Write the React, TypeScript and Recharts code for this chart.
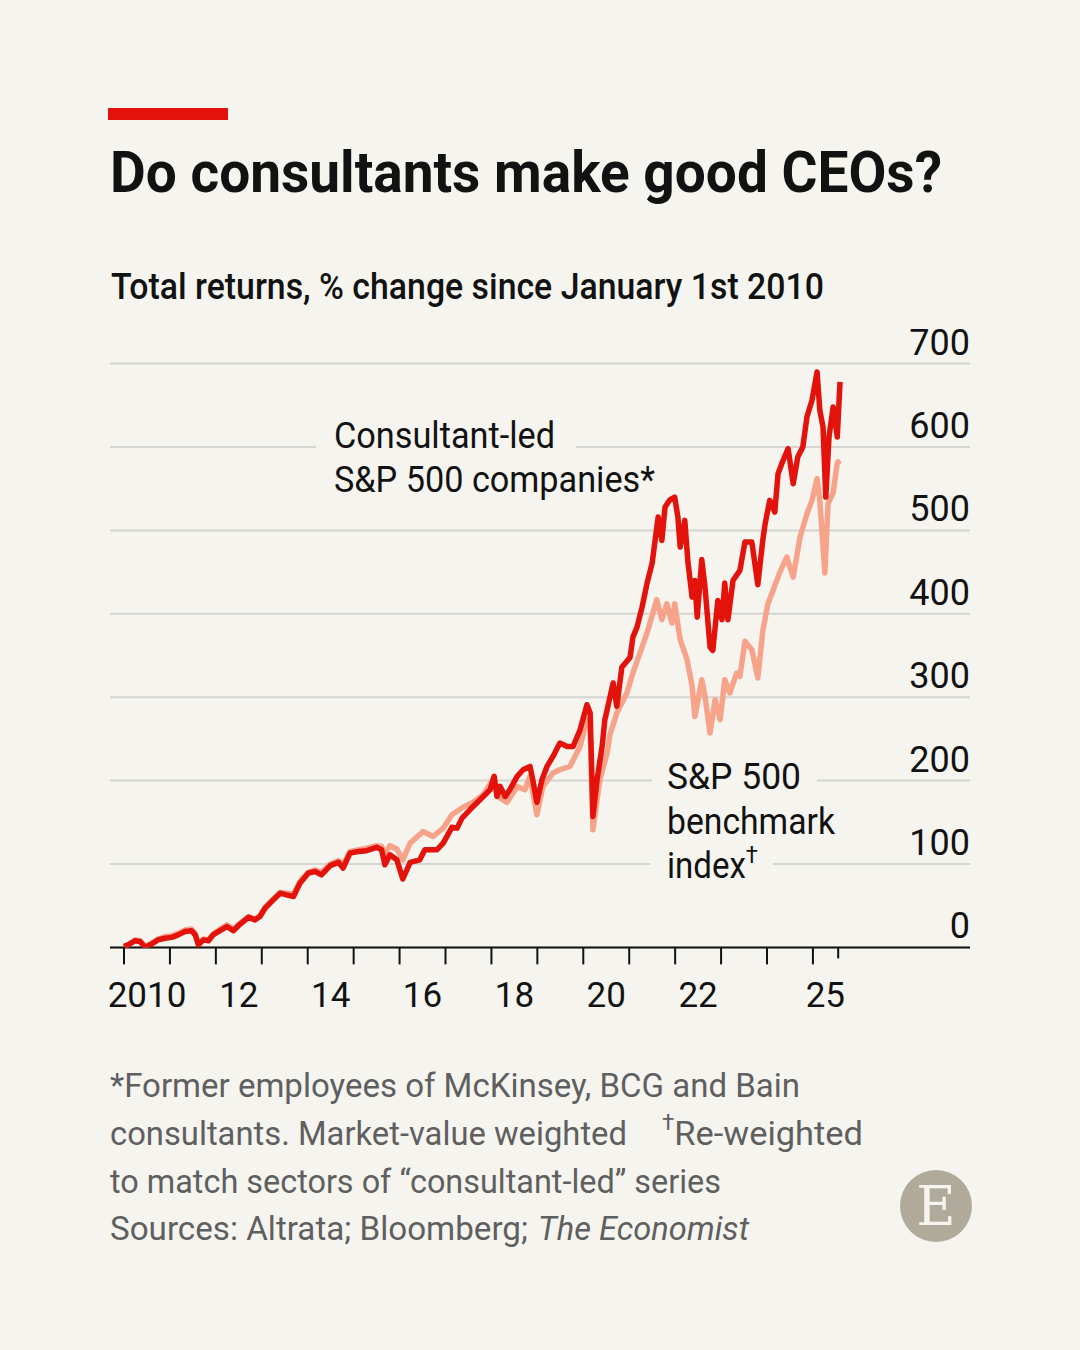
import React from 'react';
import { LineChart, Line, XAxis, YAxis, CartesianGrid, ReferenceLine } from 'recharts';

// ---------- data ----------
const consultantDates = [
  2010.00, 2010.09, 2010.24, 2010.35, 2010.46, 2010.60, 2010.74, 2010.89, 2011.04, 2011.18,
  2011.33, 2011.47, 2011.55, 2011.62, 2011.73, 2011.84, 2011.94, 2012.09, 2012.24, 2012.38,
  2012.53, 2012.71, 2012.85, 2012.96, 2013.07, 2013.25, 2013.40, 2013.54, 2013.69, 2013.83,
  2014.01, 2014.16, 2014.30, 2014.49, 2014.67, 2014.77, 2014.92, 2015.10, 2015.28, 2015.50,
  2015.61, 2015.68, 2015.79, 2015.94, 2016.07, 2016.23, 2016.44, 2016.55, 2016.81, 2016.95,
  2017.14, 2017.25, 2017.36, 2017.53, 2017.75, 2017.97, 2018.06, 2018.12, 2018.19, 2018.30,
  2018.40, 2018.56, 2018.69, 2018.84, 2018.90, 2018.99, 2019.10, 2019.21, 2019.34, 2019.49,
  2019.65, 2019.78, 2019.93, 2020.08, 2020.15, 2020.21, 2020.30, 2020.41, 2020.47, 2020.52,
  2020.65, 2020.73, 2020.84, 2021.02, 2021.08, 2021.17, 2021.28, 2021.39, 2021.50, 2021.63,
  2021.71, 2021.78, 2021.89, 2021.99, 2022.06, 2022.11, 2022.21, 2022.28, 2022.37, 2022.43,
  2022.48, 2022.58, 2022.65, 2022.76, 2022.82, 2022.93, 2023.02, 2023.08, 2023.15, 2023.26,
  2023.41, 2023.52, 2023.67, 2023.80, 2023.91, 2023.96, 2024.06, 2024.17, 2024.24, 2024.35,
  2024.46, 2024.57, 2024.67, 2024.78, 2024.87, 2024.98, 2025.09, 2025.15, 2025.22, 2025.28,
  2025.35, 2025.44, 2025.53, 2025.59,
];
const consultantValues = [
  1, 3, 8, 7, 0, 4, 9, 11, 12, 15,
  19, 20, 15, 3, 9, 8, 15, 20, 25, 20,
  28, 36, 33, 37, 47, 57, 65, 63, 61, 77,
  89, 91, 87, 98, 102, 95, 113, 115, 116, 120,
  117, 99, 111, 105, 82, 102, 105, 117, 117, 125,
  144, 143, 155, 165, 177, 189, 205, 181, 193, 181,
  189, 205, 213, 217, 201, 174, 201, 217, 229, 245,
  241, 241, 261, 291, 281, 157, 201, 241, 273, 285,
  317, 289, 336, 348, 372, 384, 408, 437, 461, 516,
  488, 528, 537, 540, 516, 480, 512, 461, 420, 440,
  396, 465, 432, 360, 356, 416, 393, 437, 393, 440,
  452, 486, 486, 435, 489, 508, 536, 522, 568, 584,
  598, 556, 588, 600, 636, 656, 690, 644, 624, 540,
  612, 648, 612, 678,
];

const benchmarkDates = [
  2010.00, 2010.09, 2010.24, 2010.35, 2010.46, 2010.60, 2010.74, 2010.89, 2011.04, 2011.18,
  2011.33, 2011.47, 2011.55, 2011.62, 2011.73, 2011.84, 2011.94, 2012.09, 2012.24, 2012.38,
  2012.53, 2012.71, 2012.85, 2012.96, 2013.07, 2013.25, 2013.40, 2013.54, 2013.69, 2013.83,
  2014.01, 2014.16, 2014.30, 2014.49, 2014.67, 2014.77, 2014.92, 2015.10, 2015.28, 2015.50,
  2015.61, 2015.68, 2015.79, 2015.94, 2016.07, 2016.23, 2016.51, 2016.73, 2016.95, 2017.14,
  2017.38, 2017.60, 2017.82, 2018.03, 2018.19, 2018.34, 2018.56, 2018.73, 2018.84, 2018.99,
  2019.12, 2019.34, 2019.49, 2019.71, 2019.93, 2020.08, 2020.15, 2020.21, 2020.36, 2020.52,
  2020.58, 2020.73, 2020.95, 2021.08, 2021.28, 2021.41, 2021.60, 2021.71, 2021.82, 2021.93,
  2021.99, 2022.11, 2022.26, 2022.37, 2022.43, 2022.58, 2022.65, 2022.76, 2022.87, 2022.98,
  2023.08, 2023.19, 2023.34, 2023.41, 2023.52, 2023.67, 2023.80, 2023.91, 2024.02, 2024.13,
  2024.28, 2024.43, 2024.57, 2024.72, 2024.87, 2024.98, 2025.09, 2025.15, 2025.26, 2025.33,
  2025.44, 2025.53, 2025.59,
];
const benchmarkValues = [
  1, 3, 9, 8, 1, 5, 10, 13, 14, 17,
  21, 22, 17, 5, 10, 9, 16, 22, 27, 22,
  29, 37, 34, 38, 48, 58, 66, 65, 64, 79,
  90, 93, 90, 100, 104, 99, 115, 117, 119, 122,
  121, 112, 122, 118, 105, 125, 139, 133, 143, 159,
  168, 174, 183, 201, 179, 174, 193, 189, 205, 159,
  193, 209, 213, 217, 241, 273, 261, 141, 201, 233,
  255, 281, 305, 329, 360, 381, 417, 393, 412, 389,
  412, 369, 345, 313, 277, 321, 301, 257, 297, 273,
  321, 305, 329, 325, 367, 357, 323, 380, 412, 428,
  450, 468, 444, 492, 520, 536, 562, 536, 449, 532,
  545, 581, 584,
];

const yTicks = [0, 100, 200, 300, 400, 500, 600, 700];
const xTickYears = [2010, 2011, 2012, 2013, 2014, 2015, 2016, 2017, 2018, 2019, 2020, 2021, 2022, 2023, 2024, 2025, 2025.55];
const xLabelPositions = [2010.5, 2012.5, 2014.5, 2016.5, 2018.5, 2020.5, 2022.5, 2025.27];
const xLabelTexts = ['2010', '12', '14', '16', '18', '20', '22', '25'];
const dataEndTick = 2025.55;

// ---------- layout / style ----------
const W = 1080;
const H = 1350;
const PLOT_LEFT = 110;
const PLOT_RIGHT = 970;
const PLOT_TOP = 363.6;
const PLOT_BOTTOM = 947.4;
const X_AXIS_H = 30;
const Y_AXIS_W = 10;
const X_DOMAIN: [number, number] = [2009.695, 2028.42];
const BG = '#f5f4ef';
const INK = '#121212';
const GREY = '#5f5f5f';
const RED = '#e3120b';
const SALMON = '#f7a38a';
const GRID = '#d4d4d0';
const FONT = "Roboto, 'Noto Sans', 'DejaVu Sans', sans-serif";

const consultantData = consultantDates.map((d, i) => ({ x: d, v: consultantValues[i] }));
const benchmarkData = benchmarkDates.map((d, i) => ({ x: d, v: benchmarkValues[i] }));

function TickMark(props: any) {
  const { x, payload } = props;
  const len = payload && payload.value === dataEndTick ? 11 : 17;
  return <line x1={x} x2={x} y1={PLOT_BOTTOM} y2={PLOT_BOTTOM + len} stroke={INK} strokeWidth={2} />;
}

function XLabel(props: any) {
  const { x, payload } = props;
  const idx = xLabelPositions.indexOf(payload.value);
  return (
    <text x={x} y={PLOT_BOTTOM + 60} textAnchor="middle" fontSize={35} fill={INK} fontFamily={FONT}>
      {idx >= 0 ? xLabelTexts[idx] : ''}
    </text>
  );
}

function YLabel(props: any) {
  const { y, payload } = props;
  return (
    <text x={PLOT_RIGHT} y={y - 9} textAnchor="end" fontSize={36} fill={INK} fontFamily={FONT}>
      {payload.value}
    </text>
  );
}

export default function App() {
  return (
    <div style={{ position: 'absolute', left: 0, top: 0, width: W, height: H, background: BG, overflow: 'hidden' }}>
      <div style={{ position: 'absolute', left: 0, top: 0 }}>
        <LineChart
          width={W}
          height={H}
          margin={{
            top: PLOT_TOP,
            right: W - PLOT_RIGHT - Y_AXIS_W,
            bottom: H - PLOT_BOTTOM - 2 * X_AXIS_H,
            left: PLOT_LEFT,
          }}
        >
          <CartesianGrid xAxisId="t" vertical={false} stroke={GRID} strokeWidth={2} />
          <XAxis
            xAxisId="t"
            type="number"
            dataKey="x"
            domain={X_DOMAIN}
            allowDataOverflow
            ticks={xTickYears}
            interval={0}
            axisLine={false}
            tickLine={false}
            height={X_AXIS_H}
            tick={<TickMark />}
          />
          <XAxis
            xAxisId="l"
            type="number"
            dataKey="x"
            domain={X_DOMAIN}
            allowDataOverflow
            ticks={xLabelPositions}
            interval={0}
            axisLine={false}
            tickLine={false}
            height={X_AXIS_H}
            tick={<XLabel />}
          />
          <YAxis
            orientation="right"
            type="number"
            domain={[0, 700]}
            allowDataOverflow
            ticks={yTicks}
            interval={0}
            axisLine={false}
            tickLine={false}
            width={Y_AXIS_W}
            tick={<YLabel />}
          />
          <ReferenceLine xAxisId="t" y={0} stroke={INK} strokeWidth={2} />
          <Line
            xAxisId="t"
            data={benchmarkData}
            dataKey="v"
            type="linear"
            stroke={SALMON}
            strokeWidth={5.5}
            strokeLinejoin="round"
            dot={false}
            isAnimationActive={false}
          />
          <Line
            xAxisId="t"
            data={consultantData}
            dataKey="v"
            type="linear"
            stroke={RED}
            strokeWidth={5.5}
            strokeLinejoin="round"
            dot={false}
            isAnimationActive={false}
          />
        </LineChart>
      </div>
      <svg
        width={W}
        height={H}
        style={{ position: 'absolute', left: 0, top: 0, pointerEvents: 'none' }}
        fontFamily={FONT}
      >
        <rect x={108} y={108} width={120} height={12} fill={RED} />
        <text x={110} y={192} fontSize={58} fontWeight={700} fill={INK} textLength={832} lengthAdjust="spacingAndGlyphs">
          Do consultants make good CEOs?
        </text>
        <text x={111} y={299} fontSize={36} fontWeight={500} fill={INK} textLength={713} lengthAdjust="spacingAndGlyphs">
          Total returns, % change since January 1st 2010
        </text>

        {/* gaps in gridlines behind labels */}
        <rect x={316} y={441} width={260} height={12} fill={BG} />
        <rect x={652} y={774} width={165} height={12} fill={BG} />
        <rect x={650} y={858} width={123} height={12} fill={BG} />

        <text x={334} y={448} fontSize={36} fill={INK} textLength={221} lengthAdjust="spacingAndGlyphs">Consultant-led</text>
        <text x={334} y={492} fontSize={36} fill={INK} textLength={321} lengthAdjust="spacingAndGlyphs">S&amp;P 500 companies*</text>

        <text x={667} y={789} fontSize={36} fill={INK} textLength={134} lengthAdjust="spacingAndGlyphs">S&amp;P 500</text>
        <text x={667} y={834} fontSize={36} fill={INK} textLength={168} lengthAdjust="spacingAndGlyphs">benchmark</text>
        <text x={667} y={878} fontSize={36} fill={INK} textLength={91} lengthAdjust="spacingAndGlyphs">
          index<tspan fontSize={24} dy={-15}>†</tspan>
        </text>

        <text x={110} y={1097} fontSize={34} fill={GREY} textLength={690} lengthAdjust="spacingAndGlyphs">
          *Former employees of McKinsey, BCG and Bain
        </text>
        <text x={110} y={1145} fontSize={34} fill={GREY} textLength={517} lengthAdjust="spacingAndGlyphs">
          consultants. Market-value weighted
        </text>
        <text x={662} y={1130} fontSize={22} fill={GREY} textLength={201} lengthAdjust="spacingAndGlyphs">
          †<tspan fontSize={34} dy={15}>Re-weighted</tspan>
        </text>
        <text x={110} y={1193} fontSize={34} fill={GREY} textLength={611} lengthAdjust="spacingAndGlyphs">
          to match sectors of “consultant-led” series
        </text>
        <text x={110} y={1240} fontSize={34} fill={GREY} textLength={418} lengthAdjust="spacingAndGlyphs">
          Sources: Altrata; Bloomberg;
        </text>
        <text x={538} y={1240} fontSize={34} fill={GREY} fontStyle="italic" textLength={211} lengthAdjust="spacingAndGlyphs">
          The Economist
        </text>

        <circle cx={936} cy={1206} r={36} fill="#b0aa9a" />
        <text x={936} y={1225} fontSize={54} fill="#f5f4ef" textAnchor="middle" fontFamily="'DejaVu Serif', 'Liberation Serif', serif">
          E
        </text>
      </svg>
    </div>
  );
}
